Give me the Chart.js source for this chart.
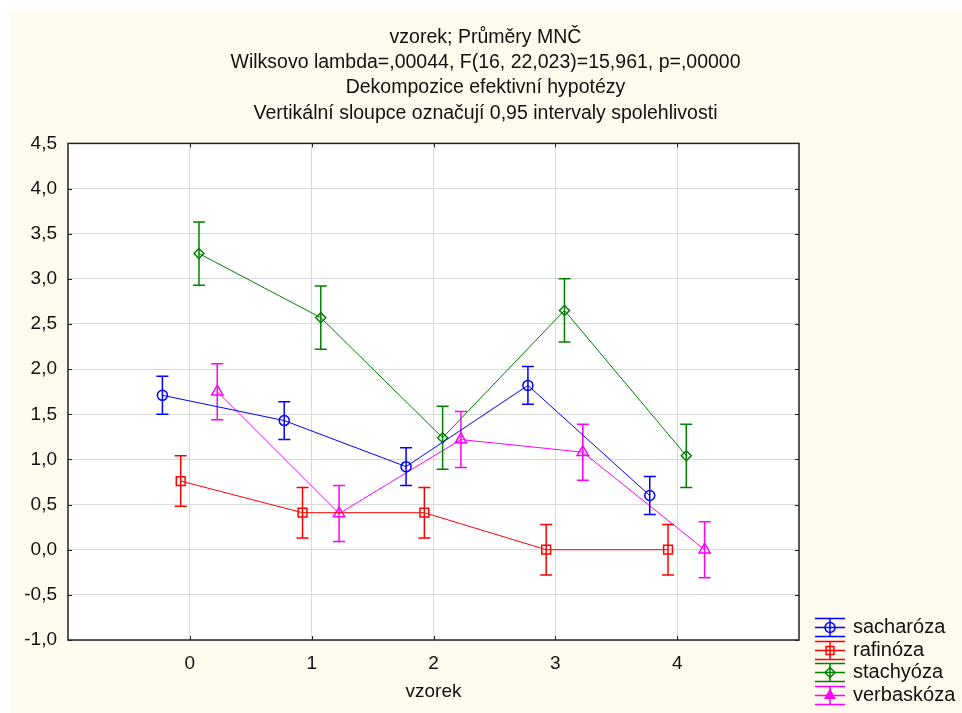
<!DOCTYPE html>
<html lang="cs">
<head>
<meta charset="utf-8">
<title>vzorek; Průměry MNČ</title>
<script src="https://cdn.jsdelivr.net/npm/chart.js@4.4.1/dist/chart.umd.min.js"></script>
<style>
    html, body { margin: 0; padding: 0; background: #ffffff; }
    #panel { position: absolute; left: 9px; top: 10px; width: 953px; height: 703px; background: #fffaee; }
    #panel canvas { display: block; }
</style>
</head>
<body>
<div id="panel"><canvas id="means-chart" width="953" height="703"></canvas></div>
<script>
"use strict";

// Groups on the x axis
const samples = [0, 1, 2, 3, 4];

// Least-squares means per sugar
const sacharoza  = [1.71, 1.43, 0.92, 1.82, 0.60];
const rafinoza   = [0.76, 0.41, 0.41, 0.00, 0.00];
const stachyoza  = [3.28, 2.57, 1.24, 2.65, 1.04];
const verbaskoza = [1.75, 0.40, 1.22, 1.08, 0.00];

// Half-widths of the 0.95 confidence intervals
const sacharozaCI  = [0.21, 0.21, 0.21, 0.21, 0.21];
const rafinozaCI   = [0.28, 0.28, 0.28, 0.28, 0.28];
const stachyozaCI  = [0.35, 0.35, 0.35, 0.35, 0.35];
const verbaskozaCI = [0.31, 0.31, 0.31, 0.31, 0.31];

const titleLines = [
    'vzorek; Průměry MNČ',
    'Wilksovo lambda=,00044, F(16, 22,023)=15,961, p=,00000',
    'Dekompozice efektivní hypotézy',
    'Vertikální sloupce označují 0,95 intervaly spolehlivosti'
];

const FONT = "'Liberation Sans', Arial, sans-serif";
const TEXT = '#111111';

/**
 * Build one scatter series, shifted sideways so the bars don't overlap
 */
function series(label, means, ci, color, pointStyle, radius, shift) {
    return {
        label: label,
        data: samples.map((s, i) => ({ x: s + shift, y: means[i] })),
        ci: ci,
        showLine: true,
        tension: 0,
        borderColor: color,
        backgroundColor: 'transparent',
        borderWidth: 1,
        pointStyle: pointStyle,
        pointRadius: radius,
        pointHoverRadius: radius,
        pointBorderColor: color,
        pointBackgroundColor: 'transparent',
        pointBorderWidth: 1.5
    };
}

const datasets = [
    series('sacharóza', sacharoza, sacharozaCI, '#0000ff', 'circle', 5, -0.225),
    series('rafinóza', rafinoza, rafinozaCI, '#ff0000', 'rect', 6.2, -0.075),
    series('stachyóza', stachyoza, stachyozaCI, '#008000', 'rectRot', 5, 0.075),
    series('verbaskóza', verbaskoza, verbaskozaCI, '#ff00ff', 'triangle', 6.5, 0.225)
];

// White plot area with a dark frame and short inward ticks
const plotFrame = {
    id: 'plotFrame',
    beforeDraw(chart) {
        const { ctx, chartArea: a } = chart;
        ctx.save();
        ctx.fillStyle = '#ffffff';
        ctx.fillRect(a.left, a.top, a.right - a.left, a.bottom - a.top);
        ctx.restore();
    },
    afterDraw(chart) {
        const { ctx, chartArea: a, scales } = chart;
        ctx.save();
        ctx.strokeStyle = '#222222';
        ctx.lineWidth = 1;
        ctx.beginPath();
        scales.x.ticks.forEach(t => {
            const px = Math.round(scales.x.getPixelForValue(t.value)) + 0.5;
            ctx.moveTo(px, a.bottom); ctx.lineTo(px, a.bottom - 4);
            ctx.moveTo(px, a.top); ctx.lineTo(px, a.top + 4);
        });
        scales.y.ticks.forEach(t => {
            const py = Math.round(scales.y.getPixelForValue(t.value)) + 0.5;
            ctx.moveTo(a.left, py); ctx.lineTo(a.left + 4, py);
            ctx.moveTo(a.right, py); ctx.lineTo(a.right - 4, py);
        });
        ctx.stroke();
        ctx.lineWidth = 1.5;
        ctx.strokeRect(a.left, a.top, a.right - a.left, a.bottom - a.top);
        ctx.restore();
    }
};

// Vertical confidence bars with caps, drawn right after each series
const errorBars = {
    id: 'errorBars',
    afterDatasetDraw(chart, args) {
        const ds = chart.data.datasets[args.index];
        const y = chart.scales.y;
        const ctx = chart.ctx;
        ctx.save();
        ctx.strokeStyle = ds.borderColor;
        ctx.lineWidth = 1.5;
        ctx.beginPath();
        args.meta.data.forEach((pt, i) => {
            const v = ds.data[i].y;
            const top = y.getPixelForValue(v + ds.ci[i]);
            const bottom = y.getPixelForValue(v - ds.ci[i]);
            ctx.moveTo(pt.x, top); ctx.lineTo(pt.x, bottom);
            ctx.moveTo(pt.x - 6, top); ctx.lineTo(pt.x + 6, top);
            ctx.moveTo(pt.x - 6, bottom); ctx.lineTo(pt.x + 6, bottom);
        });
        ctx.stroke();
        ctx.restore();
    }
};

// Legend in the lower right corner: line, bar with caps and marker
const cornerLegend = {
    id: 'cornerLegend',
    afterDraw(chart) {
        const ctx = chart.ctx;
        const x0 = chart.chartArea.right + 16;
        const rowH = 22.7;
        const lastY = chart.height - 18;
        const sets = chart.data.datasets;
        ctx.save();
        sets.forEach((ds, i) => {
            const cy = Math.round(lastY - (sets.length - 1 - i) * rowH) + 0.5;
            ctx.strokeStyle = ds.borderColor;
            ctx.lineWidth = 1.5;
            ctx.beginPath();
            ctx.moveTo(x0, cy - 9); ctx.lineTo(x0 + 30, cy - 9);
            ctx.moveTo(x0, cy + 9); ctx.lineTo(x0 + 30, cy + 9);
            ctx.moveTo(x0, cy); ctx.lineTo(x0 + 30, cy);
            ctx.moveTo(x0 + 15, cy - 9); ctx.lineTo(x0 + 15, cy + 9);
            ctx.stroke();
            ctx.fillStyle = ds.pointStyle === 'triangle' ? ds.borderColor : 'transparent';
            Chart.helpers.drawPoint(ctx, {
                pointStyle: ds.pointStyle,
                radius: Math.min(ds.pointRadius, 5.5),
                borderWidth: 1.5,
                rotation: 0
            }, x0 + 15, cy);
            ctx.fillStyle = TEXT;
            ctx.font = '20px ' + FONT;
            ctx.textAlign = 'left';
            ctx.textBaseline = 'middle';
            ctx.fillText(ds.label, x0 + 38, cy);
        });
        ctx.restore();
    }
};

new Chart(document.getElementById('means-chart').getContext('2d'), {
    type: 'scatter',
    data: { datasets: datasets },
    options: {
        responsive: false,
        animation: false,
        layout: { padding: 0 },
        plugins: {
            legend: { display: false },
            tooltip: { enabled: false },
            title: {
                display: true,
                text: titleLines,
                color: TEXT,
                font: { family: FONT, size: 19.5, weight: 'normal', lineHeight: 1.3 },
                padding: { top: 14.5, bottom: 17.5 }
            }
        },
        scales: {
            x: {
                type: 'linear',
                min: -1,
                max: 5,
                afterBuildTicks: (scale) => { scale.ticks = samples.map(v => ({ value: v })); },
                afterFit: (scale) => { scale.height = 73; },
                grid: { color: '#d9d9d9', drawTicks: false },
                border: { display: false },
                ticks: { color: TEXT, padding: 12, font: { family: FONT, size: 19 } },
                title: {
                    display: true,
                    text: 'vzorek',
                    color: TEXT,
                    font: { family: FONT, size: 19 },
                    padding: { top: 0, bottom: 10 }
                }
            },
            y: {
                min: -1,
                max: 4.5,
                afterFit: (scale) => { scale.width = 59; },
                grid: { color: '#d9d9d9', drawTicks: false },
                border: { display: false },
                ticks: {
                    stepSize: 0.5,
                    color: TEXT,
                    padding: 11,
                    font: { family: FONT, size: 19 },
                    callback: (v) => v.toFixed(1).replace('.', ',')
                }
            },
            // keeps room for the legend at the right edge
            legendSpace: {
                type: 'linear',
                position: 'right',
                display: true,
                grid: { display: false },
                border: { display: false },
                ticks: { display: false },
                afterFit: (scale) => { scale.width = 163; }
            }
        }
    },
    plugins: [plotFrame, errorBars, cornerLegend]
});
</script>
</body>
</html>
